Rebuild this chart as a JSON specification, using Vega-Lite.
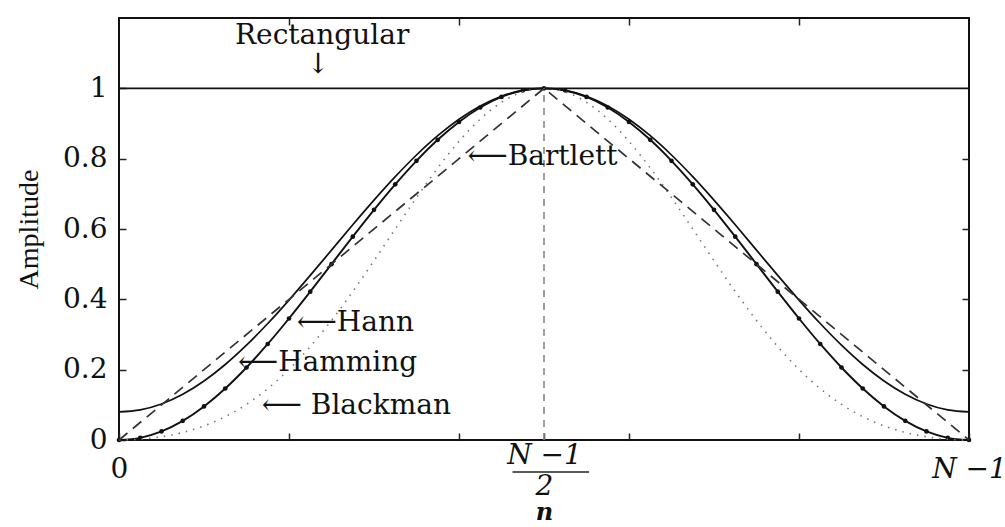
{
  "$schema": "https://vega.github.io/schema/vega-lite/v6.json",
  "width": 850,
  "height": 422,
  "autosize": {"type": "none"},
  "padding": {"left": 119, "top": 18, "right": 36, "bottom": 87},
  "background": "white",
  "config": {
    "font": "DejaVu Serif",
    "view": {"stroke": "#111111", "strokeWidth": 2},
    "axis": {
      "domain": false,
      "grid": false,
      "tickColor": "#222222",
      "tickWidth": 1.5,
      "tickSize": -7,
      "labelFont": "DejaVu Serif",
      "labelFontSize": 28,
      "labelColor": "#111111",
      "labelFlush": false,
      "labelOverlap": false,
      "titleFontWeight": "normal",
      "titleColor": "#111111"
    }
  },
  "datasets": {
    "windows": [
      {"n": 0, "hann": 0, "hamming": 0.08, "blackman": 0},
      {"n": 0.025, "hann": 0.0062, "hamming": 0.0857, "blackman": 0.0022},
      {"n": 0.05, "hann": 0.0245, "hamming": 0.1025, "blackman": 0.0092},
      {"n": 0.075, "hann": 0.0545, "hamming": 0.1301, "blackman": 0.0215},
      {"n": 0.1, "hann": 0.0955, "hamming": 0.1679, "blackman": 0.0402},
      {"n": 0.125, "hann": 0.1464, "hamming": 0.2147, "blackman": 0.0664},
      {"n": 0.15, "hann": 0.2061, "hamming": 0.2696, "blackman": 0.1014},
      {"n": 0.175, "hann": 0.273, "hamming": 0.3312, "blackman": 0.146},
      {"n": 0.2, "hann": 0.3455, "hamming": 0.3979, "blackman": 0.2008},
      {"n": 0.225, "hann": 0.4218, "hamming": 0.468, "blackman": 0.2657},
      {"n": 0.25, "hann": 0.5, "hamming": 0.54, "blackman": 0.34},
      {"n": 0.275, "hann": 0.5782, "hamming": 0.612, "blackman": 0.4221},
      {"n": 0.3, "hann": 0.6545, "hamming": 0.6821, "blackman": 0.5098},
      {"n": 0.325, "hann": 0.727, "hamming": 0.7488, "blackman": 0.6},
      {"n": 0.35, "hann": 0.7939, "hamming": 0.8104, "blackman": 0.6892},
      {"n": 0.375, "hann": 0.8536, "hamming": 0.8653, "blackman": 0.7736},
      {"n": 0.4, "hann": 0.9045, "hamming": 0.9121, "blackman": 0.8492},
      {"n": 0.425, "hann": 0.9455, "hamming": 0.9499, "blackman": 0.9125},
      {"n": 0.45, "hann": 0.9755, "hamming": 0.9775, "blackman": 0.9602},
      {"n": 0.475, "hann": 0.9938, "hamming": 0.9943, "blackman": 0.9899},
      {"n": 0.5, "hann": 1, "hamming": 1, "blackman": 1},
      {"n": 0.525, "hann": 0.9938, "hamming": 0.9943, "blackman": 0.9899},
      {"n": 0.55, "hann": 0.9755, "hamming": 0.9775, "blackman": 0.9602},
      {"n": 0.575, "hann": 0.9455, "hamming": 0.9499, "blackman": 0.9125},
      {"n": 0.6, "hann": 0.9045, "hamming": 0.9121, "blackman": 0.8492},
      {"n": 0.625, "hann": 0.8536, "hamming": 0.8653, "blackman": 0.7736},
      {"n": 0.65, "hann": 0.7939, "hamming": 0.8104, "blackman": 0.6892},
      {"n": 0.675, "hann": 0.727, "hamming": 0.7488, "blackman": 0.6},
      {"n": 0.7, "hann": 0.6545, "hamming": 0.6821, "blackman": 0.5098},
      {"n": 0.725, "hann": 0.5782, "hamming": 0.612, "blackman": 0.4221},
      {"n": 0.75, "hann": 0.5, "hamming": 0.54, "blackman": 0.34},
      {"n": 0.775, "hann": 0.4218, "hamming": 0.468, "blackman": 0.2657},
      {"n": 0.8, "hann": 0.3455, "hamming": 0.3979, "blackman": 0.2008},
      {"n": 0.825, "hann": 0.273, "hamming": 0.3312, "blackman": 0.146},
      {"n": 0.85, "hann": 0.2061, "hamming": 0.2696, "blackman": 0.1014},
      {"n": 0.875, "hann": 0.1464, "hamming": 0.2147, "blackman": 0.0664},
      {"n": 0.9, "hann": 0.0955, "hamming": 0.1679, "blackman": 0.0402},
      {"n": 0.925, "hann": 0.0545, "hamming": 0.1301, "blackman": 0.0215},
      {"n": 0.95, "hann": 0.0245, "hamming": 0.1025, "blackman": 0.0092},
      {"n": 0.975, "hann": 0.0062, "hamming": 0.0857, "blackman": 0.0022},
      {"n": 1, "hann": 0, "hamming": 0.08, "blackman": 0}
    ],
    "bartlett": [
      {"n": 0, "amp": 0},
      {"n": 0.5, "amp": 1},
      {"n": 1, "amp": 0}
    ],
    "notesLeft": [
      {"n": 0.41, "amp": 0.804, "label": "⟵Bartlett"},
      {"n": 0.209, "amp": 0.332, "label": "⟵Hann"},
      {"n": 0.14, "amp": 0.219, "label": "⟵Hamming"},
      {"n": 0.168, "amp": 0.097, "label": "⟵ Blackman"}
    ],
    "notesCenter": [
      {"n": 0.239, "amp": 1.15, "label": "Rectangular"},
      {"n": 0.234, "amp": 1.065, "label": "↓"}
    ]
  },
  "layer": [
    {
      "data": {"name": "windows"},
      "mark": {"type": "line", "color": "#111111", "strokeWidth": 1.7, "interpolate": "monotone"},
      "encoding": {
        "x": {
          "field": "n", "type": "quantitative",
          "scale": {"domain": [0, 1], "nice": false, "zero": false},
          "axis": {
            "orient": "bottom",
            "values": [0, 0.2, 0.4, 0.5, 0.6, 0.8, 1],
            "labelExpr": "datum.value == 0 ? '0' : datum.value == 1 ? 'N −1' : datum.value == 0.5 ? ['N −1', '2'] : ''",
            "labelFontStyle": {"condition": {"test": "datum.value == 0", "value": "normal"}, "value": "italic"},
            "labelPadding": {"condition": {"test": "datum.value == 0.5", "value": 8}, "value": 22},
            "labelLineHeight": 31,
            "title": "n",
            "titleFont": "DejaVu Serif",
            "titleFontSize": 24,
            "titleFontStyle": "italic",
            "titleFontWeight": "bold",
            "titlePadding": 0
          }
        },
        "y": {
          "field": "hamming", "type": "quantitative",
          "scale": {"domain": [0, 1.2], "nice": false, "zero": false},
          "axis": {
            "orient": "left",
            "values": [0, 0.2, 0.4, 0.6, 0.8, 1],
            "format": ".1~f",
            "labelPadding": 19,
            "title": "Amplitude",
            "titleFont": "Liberation Serif",
            "titleFontSize": 28,
            "titlePadding": 19
          }
        }
      }
    },
    {
      "data": {"name": "windows"},
      "mark": {"type": "line", "color": "#111111", "strokeWidth": 1.9, "interpolate": "monotone"},
      "encoding": {
        "x": {"field": "n", "type": "quantitative", "axis": null},
        "y": {"field": "hann", "type": "quantitative", "axis": null}
      }
    },
    {
      "data": {"name": "windows"},
      "mark": {"type": "point", "filled": true, "color": "#111111", "size": 22, "opacity": 1},
      "encoding": {
        "x": {"field": "n", "type": "quantitative", "axis": null},
        "y": {"field": "hann", "type": "quantitative", "axis": null}
      }
    },
    {
      "data": {"name": "windows"},
      "mark": {"type": "line", "color": "#777777", "strokeWidth": 1.6, "strokeDash": [1.5, 6], "interpolate": "monotone"},
      "encoding": {
        "x": {"field": "n", "type": "quantitative", "axis": null},
        "y": {"field": "blackman", "type": "quantitative", "axis": null}
      }
    },
    {
      "data": {"name": "bartlett"},
      "mark": {"type": "line", "color": "#333333", "strokeWidth": 1.7, "strokeDash": [11, 7]},
      "encoding": {
        "x": {"field": "n", "type": "quantitative", "axis": null},
        "y": {"field": "amp", "type": "quantitative", "axis": null}
      }
    },
    {
      "data": {"values": [{"level": 1}]},
      "mark": {"type": "rule", "color": "#111111", "strokeWidth": 1.8},
      "encoding": {
        "y": {
          "field": "level", "type": "quantitative",
          "axis": {"orient": "right", "values": [0.2, 0.4, 0.6, 0.8], "labels": false, "title": null}
        }
      }
    },
    {
      "data": {"values": [{"mid": 0.5, "low": 0, "high": 1}]},
      "mark": {"type": "rule", "color": "#888888", "strokeWidth": 1.6, "strokeDash": [7, 6]},
      "encoding": {
        "x": {
          "field": "mid", "type": "quantitative",
          "axis": {"orient": "top", "values": [0.2, 0.4, 0.6, 0.8], "labels": false, "title": null}
        },
        "y": {"field": "low", "type": "quantitative", "axis": null},
        "y2": {"field": "high"}
      }
    },
    {
      "data": {"values": [{"from": 0.463, "to": 0.553, "level": -0.091}]},
      "mark": {"type": "rule", "color": "#222222", "strokeWidth": 1.5, "clip": false},
      "encoding": {
        "x": {"field": "from", "type": "quantitative", "axis": null},
        "x2": {"field": "to"},
        "y": {"field": "level", "type": "quantitative", "axis": null}
      }
    },
    {
      "data": {"name": "notesLeft"},
      "mark": {"type": "text", "align": "left", "baseline": "middle", "font": "DejaVu Serif", "fontSize": 28, "color": "#111111"},
      "encoding": {
        "x": {"field": "n", "type": "quantitative", "axis": null},
        "y": {"field": "amp", "type": "quantitative", "axis": null},
        "text": {"field": "label"}
      }
    },
    {
      "data": {"name": "notesCenter"},
      "mark": {"type": "text", "align": "center", "baseline": "middle", "font": "DejaVu Serif", "fontSize": 28, "color": "#111111"},
      "encoding": {
        "x": {"field": "n", "type": "quantitative", "axis": null},
        "y": {"field": "amp", "type": "quantitative", "axis": null},
        "text": {"field": "label"}
      }
    }
  ],
  "resolve": {"axis": {"x": "independent", "y": "independent"}}
}
